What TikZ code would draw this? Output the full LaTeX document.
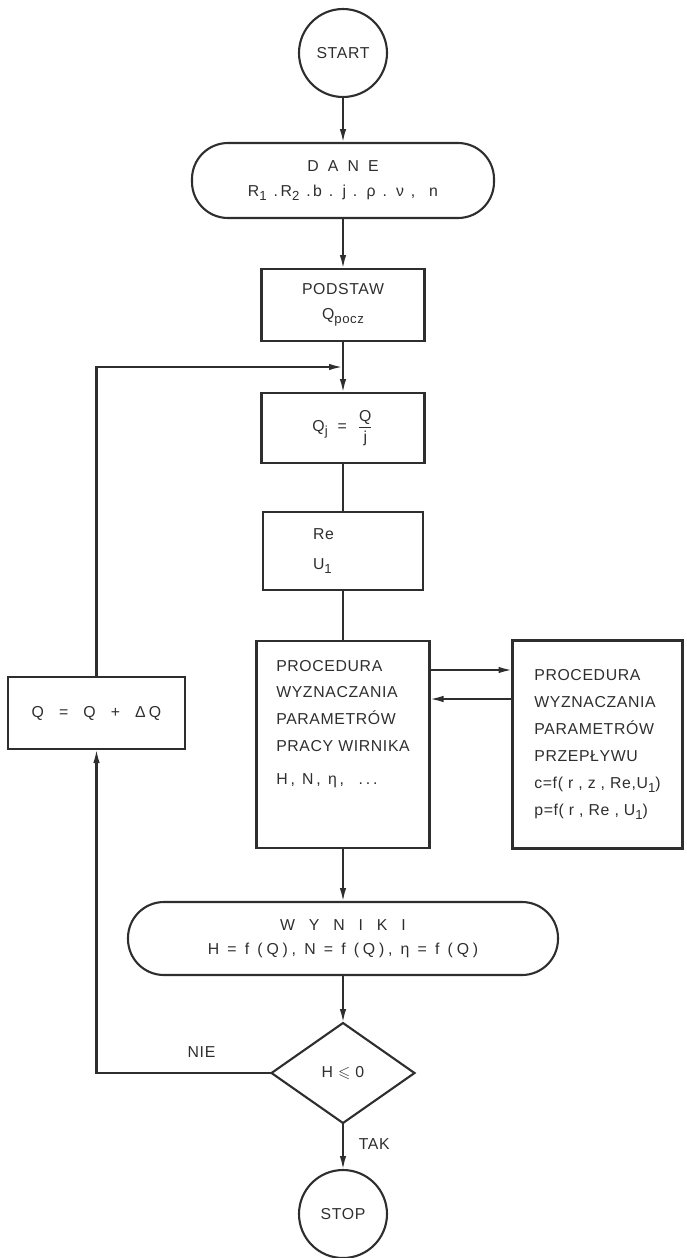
\documentclass[tikz,border=0pt]{standalone}
\usepackage{amsmath}
\usepackage{amssymb}
\usepackage{fontspec}
\setmainfont{Liberation Sans}[LetterSpace=4]
\usetikzlibrary{positioning,shapes.geometric,arrows.meta}

\newcommand{\idx}[1]{\raisebox{-0.5ex}{\fontsize{7.5}{8}\selectfont #1}}
\newcommand{\wide}[2]{{\addfontfeature{LetterSpace=#1}#2}}

\begin{document}
\begin{tikzpicture}[
        line width=1.2pt, color=black!82,
        font=\fontsize{9}{14}\selectfont,
        every node/.style={outer sep=0pt},
        term/.style={draw, circle, minimum size=1.76cm, inner sep=0pt},
        io/.style={draw, rounded corners=0.72cm, minimum height=1.5cm, align=center},
        box/.style={draw, minimum width=3.26cm, minimum height=1.44cm, align=center},
        test/.style={draw, diamond, aspect=1.43, minimum width=2.86cm, minimum height=2cm, inner sep=0pt},
        flow/.style={-{Latex[length=2.8mm,width=1.3mm]}}
    ]
        \useasboundingbox (0,0) rectangle (13.74,-25.16);

        % Main column
        \node[term] (start) at (6.86,-1.06) {START};
        \node[io, minimum width=6.04cm, below=0.92cm of start] (dane) {\wide{30}{D A N E}\\\wide{16}{R\idx{1} .R\idx{2} .b . j . ρ . ν ,\ \ n}};
        \node[box, below=1.02cm of dane] (podstaw) {PODSTAW\\Q\idx{pocz}};
        \coordinate[below=0.52cm of podstaw] (join);
        \node[box, minimum height=1.4cm, below=1.04cm of podstaw] (qj) {Q\idx{j}\ \ =\ \ $\dfrac{\text{Q}}{\text{j}}$};
        \node[box, minimum width=3.2cm, minimum height=1.56cm, text width=1.2cm, align=left, below=0.98cm of qj] (re) {Re\\[3pt]U\idx{1}};

        % Procedures
        \node[box, minimum width=3.46cm, minimum height=4.14cm, align=left, font=\fontsize{9}{15.3}\selectfont, below=1.02cm of re] (proc) {PROCEDURA\\WYZNACZANIA\\PARAMETRÓW\\PRACY WIRNIKA\\[0.11cm]\wide{18}{H, N, η, \ ...}\\[0.36cm]\mbox{}};
        \node[box, minimum width=3.4cm, minimum height=4.16cm, align=left, font=\fontsize{9}{15.3}\selectfont, right=1.66cm of proc] (flowproc) {PROCEDURA\\WYZNACZANIA\\PARAMETRÓW\\PRZEPŁYWU\\c=f( r , z , Re,U\idx{1})\\p=f( r , Re , U\idx{1})};

        % Results and test
        \node[io, minimum width=8.6cm, minimum height=1.46cm, below=1.08cm of proc] (wyniki) {\wide{60}{W Y N I K I}\\\wide{24}{H = f (Q), N = f (Q), η = f (Q)}};
        \node[test, below=0.96cm of wyniki] (test) {H $\leqslant$ 0};
        \node[term, minimum size=1.76cm, below=0.94cm of test] (stop) {STOP};

        % Increment
        \node[box, minimum width=3.54cm, minimum height=1.44cm] (qinc) at (1.93,-14.26) {\wide{20}{Q\ \ =\ \ Q\ \ +\ \ ΔQ}};

        % Connections
        \draw[flow] (start) -- (dane);
        \draw[flow] (dane) -- (podstaw);
        \draw[flow] (podstaw) -- (qj);
        \draw[flow] (qinc.north) |- (join);
        \draw (qj) -- (re);
        \draw (re) -- (proc);
        \coordinate (send) at ([yshift=-0.58cm]proc.north east);
        \coordinate (back) at ([yshift=-1.16cm]proc.north east);
        \draw[flow] (send) -- (send -| flowproc.west);
        \draw[flow] (back -| flowproc.west) -- (back);
        \draw[flow] (proc) -- (wyniki);
        \draw[flow] (wyniki) -- (test);
        \draw[flow] (test) -- node[right=0.2cm, pos=0.45] {TAK} (stop);
        \draw[flow] (test.west) -| node[above=0.2cm, pos=0.2] {NIE} (qinc.south);

    \end{tikzpicture}
\end{document}
